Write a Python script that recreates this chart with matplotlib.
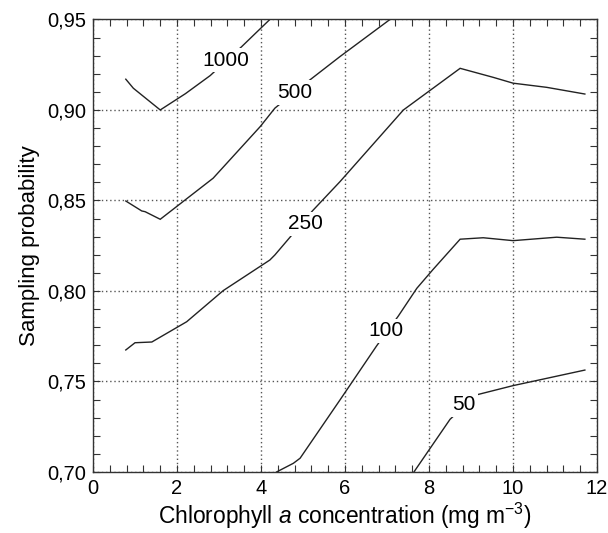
import matplotlib
matplotlib.use("Agg")
import matplotlib.pyplot as plt
from matplotlib.ticker import MultipleLocator, FuncFormatter

# Contour lines (isolines of sample size)
levels = ["1000", "500", "250", "100", "50"]

x_1000 = [0.78, 0.96, 1.6, 2.2, 2.79, 3.54, 4.21]
y_1000 = [0.917, 0.912, 0.900, 0.909, 0.919, 0.935, 0.950]

x_500 = [0.78, 1.16, 1.24, 1.6, 2.86, 3.98, 4.33, 5.13, 5.88, 7.07]
y_500 = [0.8497, 0.8442, 0.8438, 0.8396, 0.8623, 0.8908, 0.901, 0.916, 0.9295, 0.950]

x_250 = [0.78, 1.0, 1.4, 2.23, 3.1, 4.21, 4.33, 4.69, 5.23, 5.88, 7.39, 8.74, 9.53, 10.0, 10.8, 11.71]
y_250 = [0.7674, 0.7714, 0.7718, 0.783, 0.8002, 0.8171, 0.8199, 0.8297, 0.8444, 0.8604, 0.900, 0.923, 0.918, 0.9148, 0.9125, 0.9088]

x_100 = [4.37, 4.77, 4.93, 5.88, 6.75, 7.27, 7.71, 8.10, 8.74, 9.29, 10.0, 11.04, 11.71]
y_100 = [0.700, 0.7048, 0.7076, 0.7398, 0.7696, 0.7862, 0.8015, 0.812, 0.8286, 0.8294, 0.8278, 0.8297, 0.8286]

x_50 = [7.64, 8.5, 9.13, 10.0, 11.71]
y_50 = [0.700, 0.7291, 0.7426, 0.7477, 0.7563]

label_x = [3.16, 4.81, 5.05, 6.97, 8.82]
label_y = [0.9276, 0.9096, 0.837, 0.778, 0.737]

xs = [x_1000, x_500, x_250, x_100, x_50]
ys = [y_1000, y_500, y_250, y_100, y_50]

plt.rcParams['font.family'] = ['Liberation Sans', 'DejaVu Sans']
plt.rcParams['mathtext.fontset'] = 'custom'
plt.rcParams['mathtext.rm'] = 'Liberation Sans'
plt.rcParams['mathtext.it'] = 'Liberation Sans:italic'

fig = plt.figure(figsize=(6.08, 5.33), dpi=100)
ax = fig.add_axes([0.153, 0.1145, 0.829, 0.849])

for xv, yv in zip(xs, ys):
    ax.plot(xv, yv, color='#222222', lw=1.0, solid_joinstyle='miter')

for lab, lx, ly in zip(levels, label_x, label_y):
    ax.text(lx, ly, lab, fontsize=15, ha='center', va='center', color='black',
            bbox=dict(facecolor='white', edgecolor='none', pad=2), zorder=5)

ax.set_xlim(0, 12)
ax.set_ylim(0.70, 0.95)
ax.xaxis.set_major_locator(MultipleLocator(2))
ax.xaxis.set_minor_locator(MultipleLocator(0.4))
ax.yaxis.set_major_locator(MultipleLocator(0.05))
ax.yaxis.set_minor_locator(MultipleLocator(0.01))
ax.yaxis.set_major_formatter(FuncFormatter(lambda v, p: f"{v:.2f}".replace('.', ',')))
ax.xaxis.set_major_formatter(FuncFormatter(lambda v, p: f"{v:.0f}"))

ax.tick_params(which='both', direction='in', top=True, right=True, length=5,
               width=0.8, color='#333333', labelsize=14.5, pad=5)
ax.grid(True, which='major', linestyle=(0, (1, 2)), color='#555555', lw=1.0)
for s in ax.spines.values():
    s.set_color('#333333')
    s.set_linewidth(1.0)

ax.set_xlabel("Chlorophyll $\\it{a}$ concentration (mg m$^{\\mathrm{-3}}$)", fontsize=16.4, labelpad=2)
ax.set_ylabel("Sampling probability", fontsize=16, labelpad=5)

fig.savefig("out.png", dpi=100)
